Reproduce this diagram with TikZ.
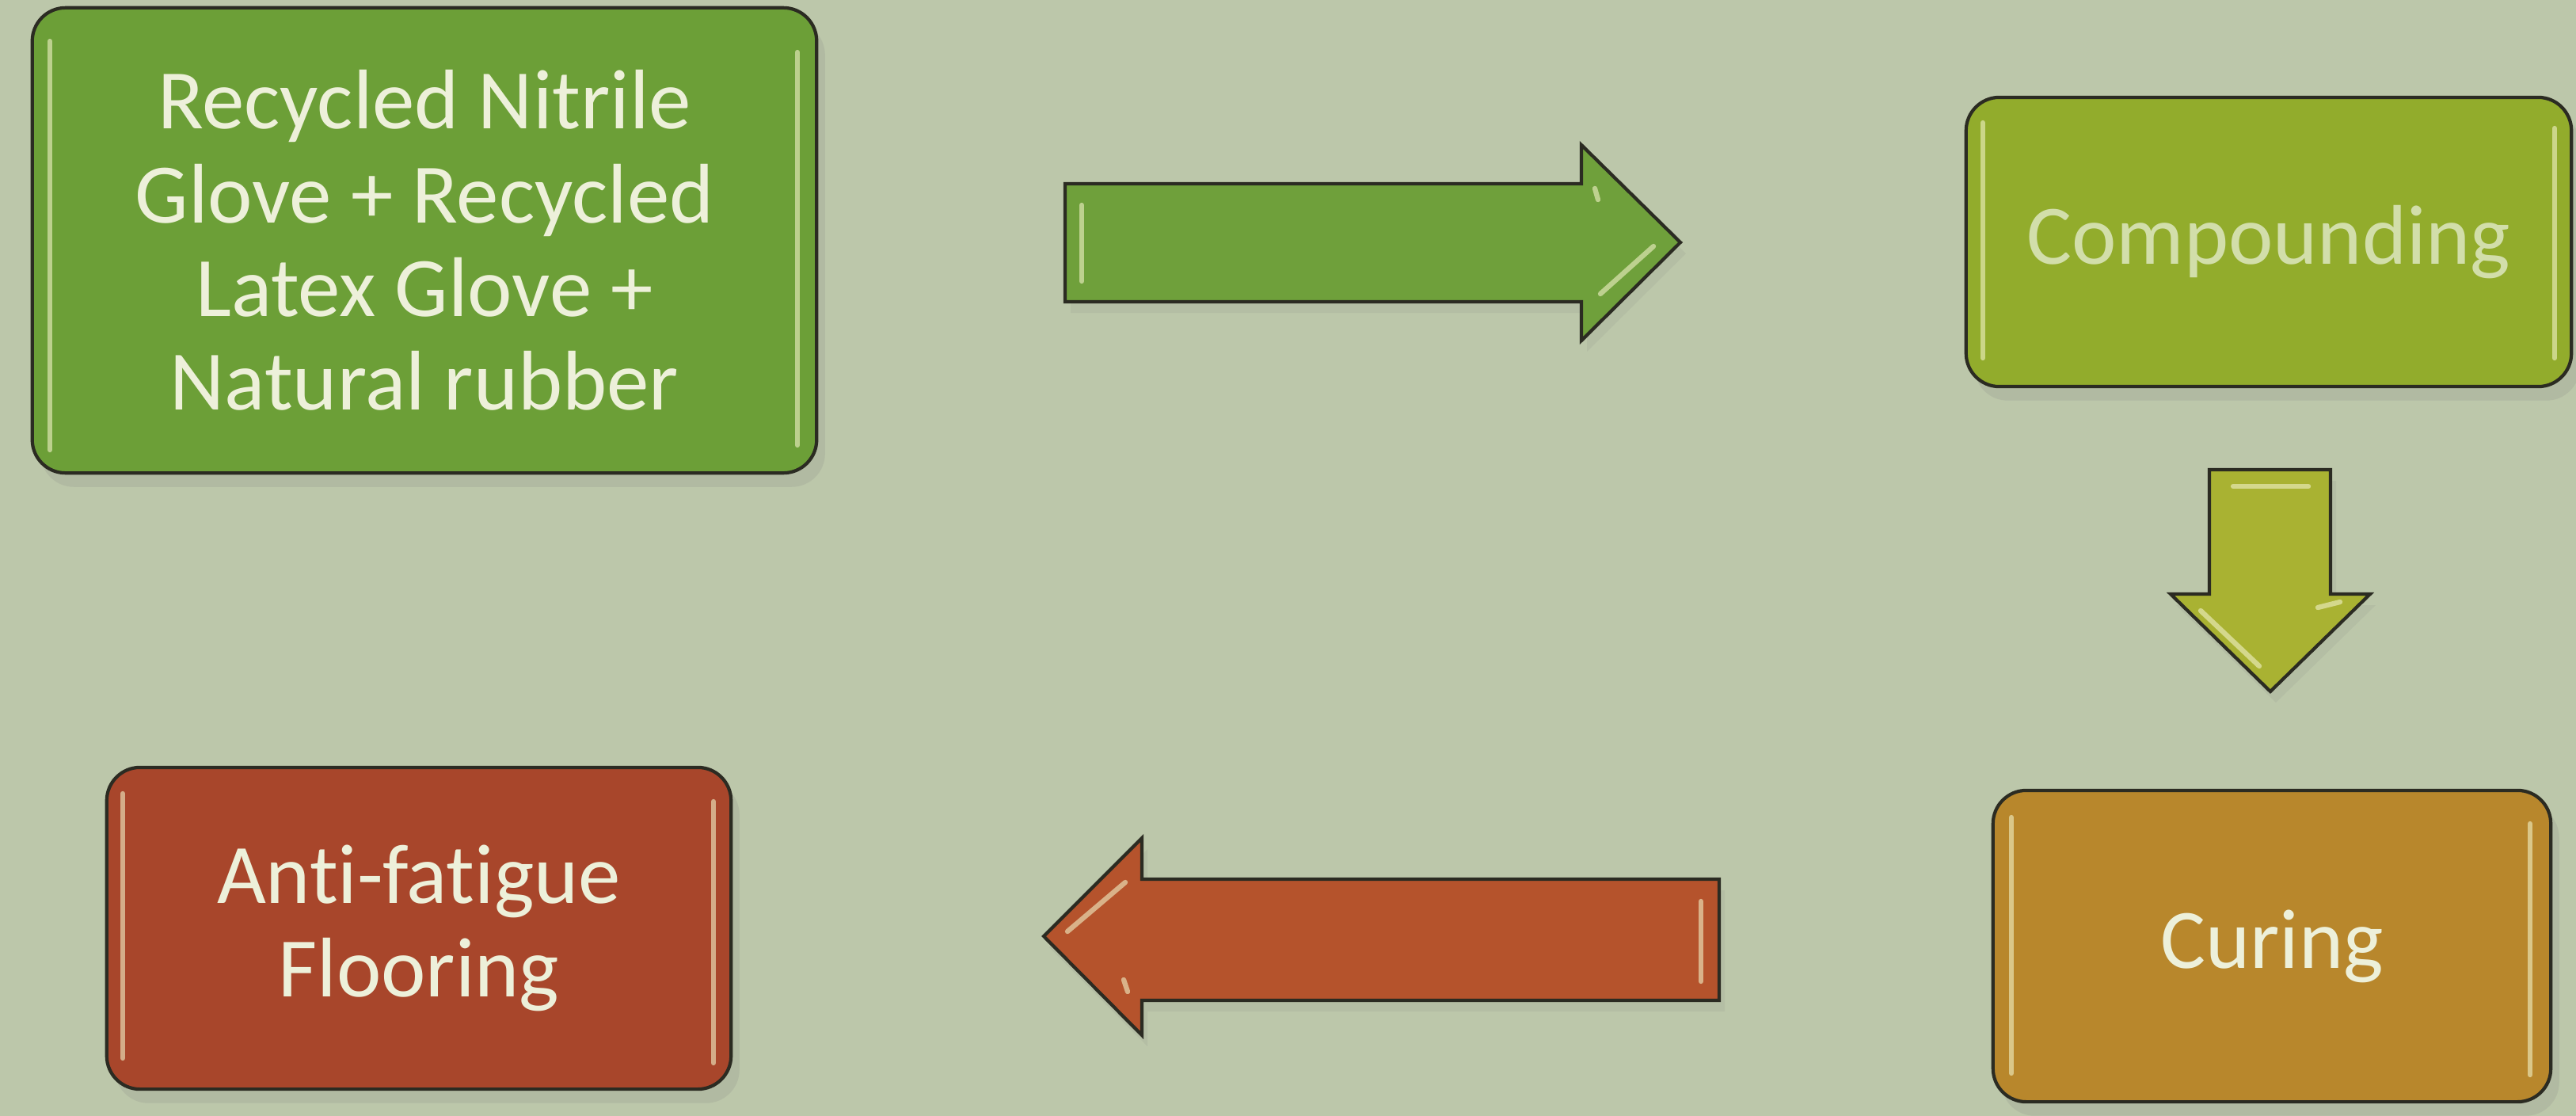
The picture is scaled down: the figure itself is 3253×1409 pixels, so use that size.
\documentclass[tikz,border=0pt]{standalone}
\usepackage{fontspec}
\setmainfont[Ligatures=NoCommon]{Carlito}
\usetikzlibrary{shadows}
\definecolor{bg}{HTML}{BCC7AA}
\definecolor{edge}{HTML}{2B2B22}
\definecolor{txt}{HTML}{EDF0DA}
\definecolor{txtfaint}{HTML}{D2DEAA}
\definecolor{gA}{HTML}{6C9F37}
\definecolor{gArrow}{HTML}{6FA03B}
\definecolor{yg}{HTML}{92AC2C}
\definecolor{olive}{HTML}{A9B232}
\definecolor{ochre}{HTML}{B8872C}
\definecolor{rustArrow}{HTML}{B5532C}
\definecolor{rust}{HTML}{A8462B}
\definecolor{hilite}{HTML}{F2F2C8}
\begin{document}
\begin{tikzpicture}[x=0.01cm,y=-0.01cm,
  box/.style={rectangle, rounded corners=0.42cm, draw=edge, line width=1.2pt,
    align=center, inner sep=0pt, text=txt,
    font=\fontsize{30.4}{33.6}\selectfont,
    drop shadow={opacity=0.18, shadow xshift=3pt, shadow yshift=-5pt}},
  blockarrow/.style={draw=edge, line width=1.2pt, line join=miter,
    drop shadow={opacity=0.12, shadow xshift=2pt, shadow yshift=-4pt}},
  shine/.style={draw=hilite, line width=1.8pt, line cap=round, opacity=0.6}]
\fill[bg] (0,0) rectangle (3253,1409);
\useasboundingbox (0,0) rectangle (3253,1409);

% boxes
\node[box, fill=gA, minimum width=9.90cm, minimum height=5.87cm] (src) at (536,303.5)
  {Recycled Nitrile\\Glove + Recycled\\Latex Glove +\\Natural rubber};
\node[box, fill=yg, text=txtfaint, minimum width=7.64cm, minimum height=3.65cm] (comp) at (2865,305.5)
  {Compounding};
\node[box, fill=ochre, minimum width=7.04cm, minimum height=3.93cm] (cure) at (2869,1194.5)
  {Curing};
\node[box, fill=rust, minimum width=7.88cm, minimum height=4.06cm] (floor) at (529,1172)
  {Anti-fatigue\\Flooring};

% box highlights
\draw[shine] (63,52) -- (63,568);
\draw[shine] (1007,66) -- (1007,562);
\draw[shine] (2504,155) -- (2504,452);
\draw[shine] (3226,162) -- (3226,452);
\draw[shine] (2540,1032) -- (2540,1355);
\draw[shine] (3195,1040) -- (3195,1357);
\draw[shine] (155,1002) -- (155,1336);
\draw[shine] (901,1012) -- (901,1342);

% right arrow
\draw[blockarrow, fill=gArrow] (1345,232) -- (1997,232) -- (1997,183) -- (2122,306)
  -- (1997,430) -- (1997,381) -- (1345,381) -- cycle;
\draw[shine] (1366,259) -- (1366,355);
\draw[shine] (2014,238) -- (2018,252);
\draw[shine] (2021,371) -- (2088,311);

% down arrow
\draw[blockarrow, fill=olive] (2790,593) -- (2943,593) -- (2943,750) -- (2993,750)
  -- (2867,873) -- (2741,750) -- (2790,750) -- cycle;
\draw[shine] (2820,614) -- (2915,614);
\draw[shine] (2779,771) -- (2853,841);
\draw[shine] (2927,767) -- (2955,760);

% left arrow
\draw[blockarrow, fill=rustArrow] (2171,1110) -- (1442,1110) -- (1442,1058) -- (1318,1182)
  -- (1442,1307) -- (1442,1263) -- (2171,1263) -- cycle;
\draw[shine] (2148,1138) -- (2148,1239);
\draw[shine] (1348,1176) -- (1421,1114);
\draw[shine] (1419,1237) -- (1424,1252);
\end{tikzpicture}
\end{document}
